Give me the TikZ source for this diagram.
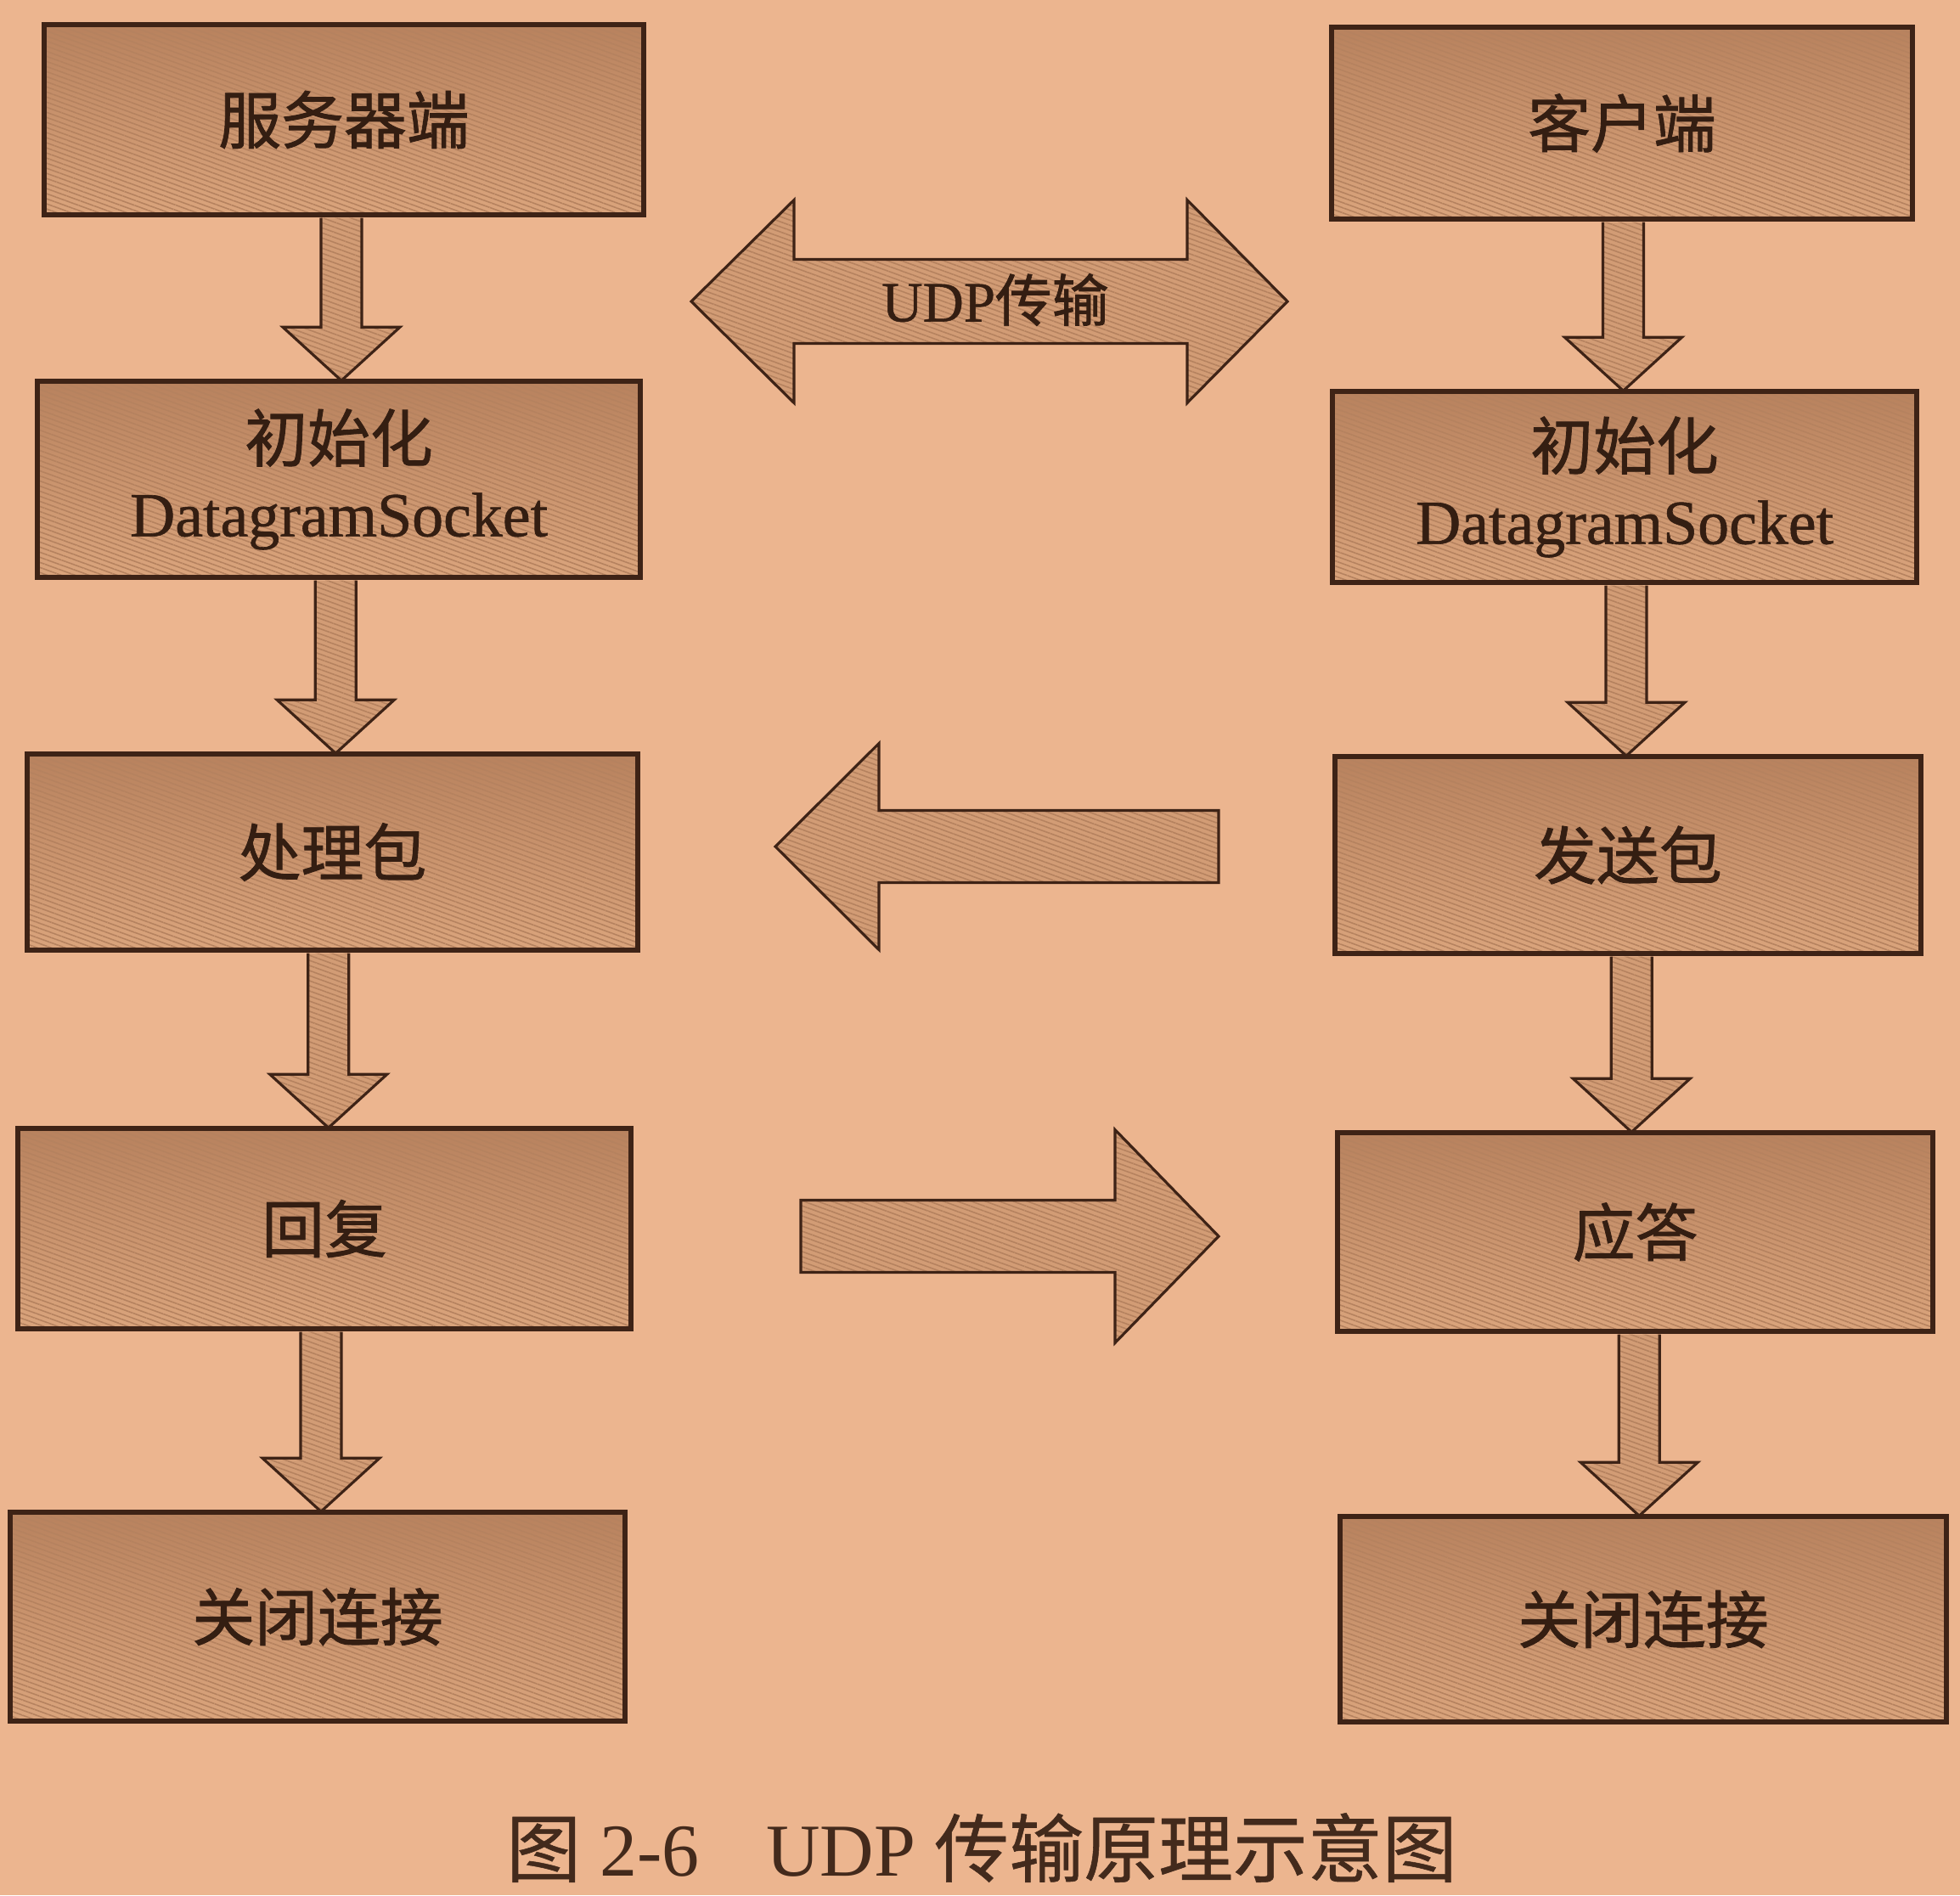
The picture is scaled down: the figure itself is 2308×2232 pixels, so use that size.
\documentclass[tikz,border=0pt]{standalone}
\usepackage{fontspec}
\setmainfont{Liberation Serif}
\newfontfamily\cjk{Noto Sans CJK SC}[FakeBold=1.2]
\newfontfamily\cjkcap{Noto Sans CJK SC}[FakeBold=0.6]
\newfontfamily\latb{Liberation Serif}[FakeBold=0.8]
\usetikzlibrary{calc,patterns.meta}
\definecolor{bgcol}{RGB}{236,181,143}
\definecolor{edgecol}{RGB}{62,35,22}
\definecolor{txtcol}{RGB}{52,30,18}
\definecolor{boxtop}{RGB}{184,130,94}
\definecolor{boxbot}{RGB}{218,164,124}
\definecolor{hatchcol}{RGB}{150,102,72}
\definecolor{arrowcol}{RGB}{210,156,117}
\def\shaftw{0.24cm}
\def\headw{0.69cm}
\def\headl{0.63cm}
\newcommand\flowarrow[2]{%
  \path[arrowbody] let \p1=(#1.south), \p2=(#2.north) in
    ({(\x1+\x2)/2-\shaftw},{\y1-0.8pt}) -- ({(\x1+\x2)/2-\shaftw},{\y2+\headl})
    -- ({(\x1+\x2)/2-\headw},{\y2+\headl}) -- ({(\x1+\x2)/2},\y2)
    -- ({(\x1+\x2)/2+\headw},{\y2+\headl}) -- ({(\x1+\x2)/2+\shaftw},{\y2+\headl})
    -- ({(\x1+\x2)/2+\shaftw},{\y1-0.8pt});}
% tail, tip, shaft half width, head half width, head length
\newcommand\sidearrow[5]{%
  \path[arrowbody] ($(#1)+(0,#3)$) -- ($(#2)!#5!(#1)+(0,#3)$) -- ($(#2)!#5!(#1)+(0,#4)$)
    -- (#2) -- ($(#2)!#5!(#1)-(0,#4)$) -- ($(#2)!#5!(#1)-(0,#3)$) -- ($(#1)-(0,#3)$) -- cycle;}
\begin{document}
\begin{tikzpicture}[x=0.01cm,y=-0.01cm,
  hatch/.style={postaction={pattern={Lines[angle=-20,distance=1.6pt,line width=0.45pt]},pattern color=hatchcol!55!boxbot}},
  box/.style={inner sep=0pt,top color=boxtop,bottom color=boxbot,hatch,
    postaction={draw=edgecol,line width=1.6pt},
    text=txtcol,font=\cjk\fontsize{21pt}{25pt}\selectfont,align=center},
  arrowbody/.style={fill=arrowcol,hatch,postaction={draw=edgecol,line width=0.9pt,line join=miter}},
  lbl/.style={text=txtcol,inner sep=0pt}]
\fill[bgcol] (0,0) rectangle (2308,2232);
\useasboundingbox (0,0) rectangle (2308,2232);
% server column
\node[box,minimum width=7.06cm,minimum height=2.24cm] (b1) at (405,141) {服务器端};
\node[box,minimum width=7.10cm,minimum height=2.31cm] (b2) at (399,564.5) {初始化\\{\latb DatagramSocket}};
\node[box,minimum width=7.19cm,minimum height=2.31cm] (b3) at (391.5,1003.5) {处理包};
\node[box,minimum width=7.22cm,minimum height=2.36cm] (b4) at (382,1447) {回复};
\node[box,minimum width=7.24cm,minimum height=2.46cm] (b5) at (374,1904) {关闭连接};
% client column
\node[box,minimum width=6.84cm,minimum height=2.26cm] (r1) at (1910,145) {客户端};
\node[box,minimum width=6.88cm,minimum height=2.25cm] (r2) at (1913,573.5) {初始化\\{\latb DatagramSocket}};
\node[box,minimum width=6.90cm,minimum height=2.32cm] (r3) at (1917,1007) {发送包};
\node[box,minimum width=7.01cm,minimum height=2.34cm] (r4) at (1925.5,1451) {应答};
\node[box,minimum width=7.14cm,minimum height=2.42cm] (r5) at (1935,1907) {关闭连接};
% vertical flow arrows
\flowarrow{b1}{b2}
\flowarrow{b2}{b3}
\flowarrow{b3}{b4}
\flowarrow{b4}{b5}
\flowarrow{r1}{r2}
\flowarrow{r2}{r3}
\flowarrow{r3}{r4}
\flowarrow{r4}{r5}
% UDP double arrow
\coordinate (udpL) at (814,355);
\coordinate (udpR) at (1516,355);
\path[arrowbody] (udpL) -- ($(udpL)+(1.21cm,1.195cm)$) -- ($(udpL)+(1.21cm,0.495cm)$)
  -- ($(udpR)+(-1.18cm,0.495cm)$) -- ($(udpR)+(-1.18cm,1.195cm)$) -- (udpR)
  -- ($(udpR)+(-1.18cm,-1.195cm)$) -- ($(udpR)+(-1.18cm,-0.495cm)$)
  -- ($(udpL)+(1.21cm,-0.495cm)$) -- ($(udpL)+(1.21cm,-1.195cm)$) -- cycle;
\node[lbl,font=\fontsize{19pt}{22pt}\selectfont] (udp) at (1172,353) {{\latb UDP}{\cjk 传输}};
% send / reply arrows
\coordinate (sendtail) at (1435,997);
\coordinate (sendtip) at (913,997);
\sidearrow{sendtail}{sendtip}{0.425cm}{1.215cm}{1.22cm}
\coordinate (replytail) at (943,1456);
\coordinate (replytip) at (1435,1456);
\sidearrow{replytail}{replytip}{0.425cm}{1.255cm}{1.22cm}
% caption
\node[lbl,font=\fontsize{25pt}{30pt}\selectfont,text=txtcol!92!bgcol] (cap) at (1156,2176)
  {{\cjkcap 图} 2-6\hspace{0.9em}UDP {\cjkcap 传输原理示意图}};
\end{tikzpicture}
\end{document}
